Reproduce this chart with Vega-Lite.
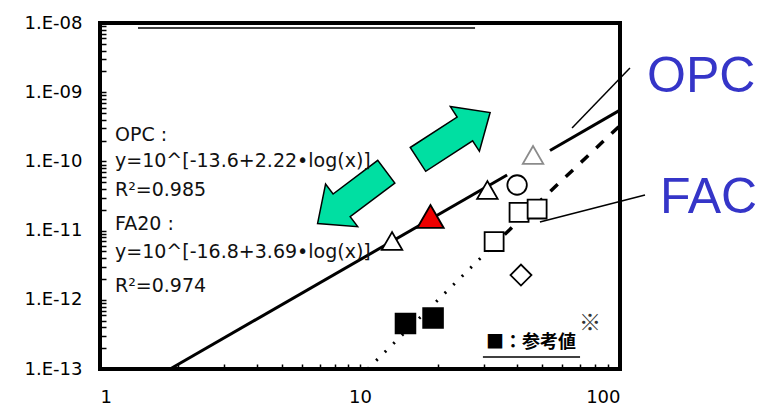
{
  "$schema": "https://vega.github.io/schema/vega-lite/v6.json",
  "width": 520,
  "height": 346,
  "autosize": {"type": "none"},
  "padding": {"left": 100, "top": 23, "right": 142, "bottom": 39},
  "background": "white",
  "config": {
    "view": {"stroke": "black", "strokeWidth": 4},
    "axis": {"domain": false, "grid": false, "title": null, "tickColor": "black", "tickWidth": 1.5, "tickSize": -6, "labelColor": "black", "labelFont": "DejaVu Sans", "labelFontSize": 18, "labelOverlap": false, "labelBound": false}
  },
  "datasets": {
    "lines": [
      {"seg": "OPC_a", "x": 1.86, "y": 1e-13},
      {"seg": "OPC_a", "x": 36.8, "y": 6.35e-11},
      {"seg": "OPC_b", "x": 53.8, "y": 1.44e-10},
      {"seg": "OPC_b", "x": 100, "y": 5.5e-10}
    ],
    "fadot": [
      {"x": 10.7, "y": 1e-13},
      {"x": 36, "y": 8.8e-12}
    ],
    "fadash": [
      {"x": 36, "y": 8.8e-12},
      {"x": 100, "y": 3.3e-10}
    ],
    "pts": [
      {"kind": "tri_open", "x": 13.28, "y": 7.08e-12},
      {"kind": "tri_open", "x": 30.9, "y": 3.86e-11},
      {"kind": "tri_red", "x": 18.67, "y": 1.6e-11},
      {"kind": "circle", "x": 40.2, "y": 4.56e-11},
      {"kind": "sq_open", "x": 40.9, "y": 1.83e-11},
      {"kind": "sq_open", "x": 48, "y": 2.05e-11},
      {"kind": "sq_open", "x": 32.8, "y": 6.95e-12},
      {"kind": "diamond", "x": 41.6, "y": 2.28e-12},
      {"kind": "sq_filled", "x": 14.96, "y": 4.55e-13},
      {"kind": "sq_filled", "x": 19.1, "y": 5.46e-13}
    ],
    "faint": [
      {"kind": "tri_faint", "x": 46.3, "y": 1.24e-10}
    ],
    "arrows": [
      {"name": "up", "x": 23.0, "y": 2.33e-10},
      {"name": "down", "x": 9.31, "y": 3.0e-11}
    ],
    "rules": [
      {"name": "top", "x": 1.40, "y": 8.47e-9, "x2": 27.7, "y2": 8.47e-9},
      {"name": "opc", "x": 109.2, "y": 2.24e-9, "x2": 65.4, "y2": 3.04e-10},
      {"name": "fac", "x": 124.8, "y": 3.27e-11, "x2": 49.2, "y2": 1.33e-11},
      {"name": "ul", "x": 29.7, "y": 1.49e-13, "x2": 70.2, "y2": 1.49e-13}
    ],
    "eqs": [
      {"x": 1.142, "y": 2.41e-10, "label": "OPC :"},
      {"x": 1.142, "y": 1.01e-10, "label": "y=10^[-13.6+2.22•log(x)]"},
      {"x": 1.142, "y": 3.87e-11, "label": "R²=0.985"},
      {"x": 1.142, "y": 1.245e-11, "label": "FA20 :"},
      {"x": 1.142, "y": 4.91e-12, "label": "y=10^[-16.8+3.69•log(x)]"},
      {"x": 1.142, "y": 1.585e-12, "label": "R²=0.974"}
    ],
    "callouts": [
      {"x": 127, "y": 1.686e-9, "label": "OPC"},
      {"x": 142.5, "y": 3.0e-11, "label": "FAC"}
    ],
    "notes": [
      {"x": 45.5, "y": 2.38e-13, "label": "■：参考値"}
    ],
    "star": [
      {"x": 76.7, "y": 4.55e-13, "label": "※"}
    ]
  },
  "encoding": {
    "x": {
      "field": "x", "type": "quantitative",
      "scale": {"type": "log", "domain": [1, 100], "nice": false},
      "axis": {
        "values": [1, 2, 3, 4, 5, 6, 7, 8, 9, 10, 20, 30, 40, 50, 60, 70, 80, 90, 100],
        "labelExpr": "abs(log(datum.value)/LN10 - round(log(datum.value)/LN10)) < 0.000001 ? format(datum.value, 'd') : ''",
        "labelPadding": 24,
        "tickSize": -5
      }
    },
    "y": {
      "field": "y", "type": "quantitative",
      "scale": {"type": "log", "domain": [1e-13, 1e-8], "nice": false},
      "axis": {
        "values": [1e-13, 2e-13, 3e-13, 4e-13, 5e-13, 6e-13, 7e-13, 8e-13, 9e-13,
                   1e-12, 2e-12, 3e-12, 4e-12, 5e-12, 6e-12, 7e-12, 8e-12, 9e-12,
                   1e-11, 2e-11, 3e-11, 4e-11, 5e-11, 6e-11, 7e-11, 8e-11, 9e-11,
                   1e-10, 2e-10, 3e-10, 4e-10, 5e-10, 6e-10, 7e-10, 8e-10, 9e-10,
                   1e-9, 2e-9, 3e-9, 4e-9, 5e-9, 6e-9, 7e-9, 8e-9, 9e-9, 1e-8],
        "labelExpr": "abs(log(datum.value)/LN10 - round(log(datum.value)/LN10)) < 0.000001 ? '1.E-' + (round(-log(datum.value)/LN10) < 10 ? '0' : '') + round(-log(datum.value)/LN10) : ''",
        "labelPadding": 24,
        "tickSize": -6
      }
    }
  },
  "layer": [
    {
      "data": {"name": "rules"},
      "mark": {"type": "rule", "color": "black", "strokeWidth": 1.5},
      "encoding": {"x2": {"field": "x2"}, "y2": {"field": "y2"}}
    },
    {
      "data": {"name": "lines"},
      "mark": {"type": "line", "color": "black", "strokeWidth": 3},
      "encoding": {"detail": {"field": "seg"}}
    },
    {
      "data": {"name": "fadot"},
      "mark": {"type": "line", "color": "black", "strokeWidth": 3, "strokeDash": [2, 10]},
      "encoding": {}
    },
    {
      "data": {"name": "fadash"},
      "mark": {"type": "line", "color": "black", "strokeWidth": 3.5, "strokeDash": [10, 11]},
      "encoding": {}
    },
    {
      "data": {"name": "faint"},
      "mark": {"type": "point", "shape": "triangle-up", "size": 420, "filled": true, "fill": "white", "stroke": "black", "strokeWidth": 1.8, "opacity": 0.45}
    },
    {
      "data": {"name": "pts"},
      "mark": {"type": "point", "filled": true, "stroke": "black", "strokeWidth": 1.8, "opacity": 1, "fillOpacity": 1, "strokeOpacity": 1},
      "encoding": {
        "shape": {"field": "kind", "type": "nominal", "legend": null,
          "scale": {"domain": ["tri_open", "tri_red", "circle", "sq_open", "diamond", "sq_filled"],
                    "range": ["triangle-up", "triangle-up", "circle", "square", "diamond", "square"]}},
        "fill": {"field": "kind", "type": "nominal", "legend": null,
          "scale": {"domain": ["tri_open", "tri_red", "circle", "sq_open", "diamond", "sq_filled"],
                    "range": ["white", "#EE0000", "white", "white", "white", "black"]}},
        "size": {"field": "kind", "type": "nominal", "legend": null,
          "scale": {"type": "ordinal", "domain": ["tri_open", "tri_red", "circle", "sq_open", "diamond", "sq_filled"],
                    "range": [420, 700, 380, 360, 440, 390]}}
      }
    },
    {
      "data": {"name": "arrows"},
      "transform": [{"filter": "datum.name == 'up'"}],
      "mark": {"type": "point", "filled": true, "fill": "#00DFA2", "fillOpacity": 1, "stroke": "black", "strokeWidth": 1.5, "opacity": 1,
               "shape": "M -1 -0.33 L 0.3 -0.33 L 0.3 -0.62 L 1 0 L 0.3 0.62 L 0.3 0.33 L -1 0.33 Z",
               "size": 7400, "angle": 327}
    },
    {
      "data": {"name": "arrows"},
      "transform": [{"filter": "datum.name == 'down'"}],
      "mark": {"type": "point", "filled": true, "fill": "#00DFA2", "fillOpacity": 1, "stroke": "black", "strokeWidth": 1.5, "opacity": 1,
               "shape": "M -1 -0.33 L 0.3 -0.33 L 0.3 -0.62 L 1 0 L 0.3 0.62 L 0.3 0.33 L -1 0.33 Z",
               "size": 7400, "angle": 143}
    },
    {
      "data": {"name": "eqs"},
      "mark": {"type": "text", "align": "left", "baseline": "middle", "font": "DejaVu Sans", "fontSize": 19, "color": "#111111"},
      "encoding": {"text": {"field": "label"}}
    },
    {
      "data": {"name": "callouts"},
      "mark": {"type": "text", "align": "left", "baseline": "middle", "font": "Liberation Sans", "fontSize": 50, "color": "#3535C8"},
      "encoding": {"text": {"field": "label"}}
    },
    {
      "data": {"name": "notes"},
      "mark": {"type": "text", "align": "center", "baseline": "middle", "font": "Noto Sans CJK JP", "fontSize": 18, "fontWeight": "bold", "color": "black"},
      "encoding": {"text": {"field": "label"}}
    },
    {
      "data": {"name": "star"},
      "mark": {"type": "text", "align": "center", "baseline": "middle", "font": "Noto Sans CJK JP", "fontSize": 22, "color": "#333333"},
      "encoding": {"text": {"field": "label"}}
    }
  ]
}
